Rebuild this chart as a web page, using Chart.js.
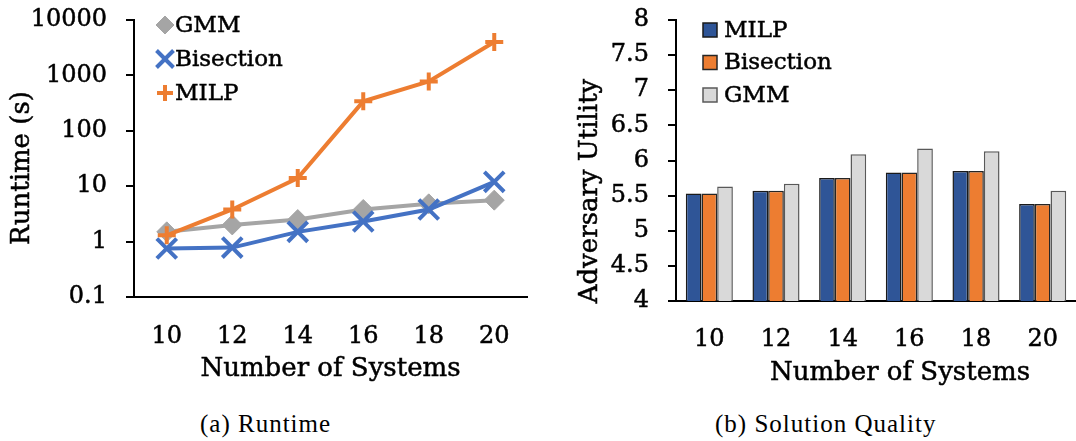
<!DOCTYPE html>
<html>
<head>
<meta charset="utf-8">
<script src="https://cdn.jsdelivr.net/npm/chart.js@4.4.1/dist/chart.umd.min.js"></script>
<style>
  html, body { margin: 0; padding: 0; background: #fff; }
  body { width: 1076px; height: 441px; position: relative; overflow: hidden; }
  #runtime { position: absolute; left: 0; top: 0; }
  #quality { position: absolute; left: 545px; top: 0; }
  .cap { position: absolute; top: 411px; font-family: "Liberation Serif", serif; font-size: 25px;
         letter-spacing: 1px; line-height: 1; color: #000; white-space: nowrap; }
</style>
</head>
<body>
<canvas id="runtime" width="545" height="400"></canvas>
<canvas id="quality" width="531" height="400"></canvas>
<div class="cap" style="left:200px">(a) Runtime</div>
<div class="cap" style="left:715px">(b) Solution Quality</div>
<script>
// ---- data ----
const systems = ['10', '12', '14', '16', '18', '20'];

const runtimeGMM       = [1.5, 2.0, 2.5, 3.8, 4.8, 5.6];
const runtimeBisection = [0.75, 0.78, 1.5, 2.3, 3.8, 12];
const runtimeMILP      = [1.3, 3.8, 14, 340, 780, 4000];
const runtimeTicks     = [0.1, 1, 10, 100, 1000, 10000];

const utilityMILP      = [5.53, 5.57, 5.75, 5.83, 5.85, 5.38];
const utilityBisection = [5.53, 5.57, 5.75, 5.83, 5.85, 5.38];
const utilityGMM       = [5.63, 5.67, 6.09, 6.17, 6.13, 5.57];
const utilityTicks     = [4, 4.5, 5, 5.5, 6, 6.5, 7, 7.5, 8];

// ---- shared styling ----
const FAMILY = 'DejaVu Serif';
const TICK_FONT = { family: FAMILY, size: 24 };
const TITLE_SIZE = 26;
const LEGEND_SIZE = 23;
const INK = 0.5;

Chart.defaults.font.family = FAMILY;
Chart.defaults.color = '#000';
Chart.defaults.animation = false;

function inkText(ctx, text, x, y) {
  ctx.fillText(text, x, y);
  ctx.lineWidth = INK;
  ctx.strokeStyle = '#000';
  ctx.strokeText(text, x, y);
}

function drawTitle(ctx, text, x, y, vertical) {
  ctx.save();
  ctx.fillStyle = '#000';
  ctx.font = TITLE_SIZE + 'px "' + FAMILY + '"';
  ctx.textAlign = 'center';
  ctx.textBaseline = 'middle';
  ctx.translate(x, y);
  if (vertical) ctx.rotate(-Math.PI / 2);
  inkText(ctx, text, 0, 0);
  ctx.restore();
}

function legendText(ctx, text, x, y) {
  ctx.save();
  ctx.fillStyle = '#000';
  ctx.font = LEGEND_SIZE + 'px "' + FAMILY + '"';
  ctx.textAlign = 'left';
  ctx.textBaseline = 'middle';
  inkText(ctx, text, x, y);
  ctx.restore();
}

// keep the plot edges where the axis boxes put them
function flatY(width) {
  return function (s) { s.width = width; s.paddingTop = 0; s.paddingBottom = 0; };
}
function flatX(height) {
  return function (s) { s.height = height; s.paddingLeft = 0; s.paddingRight = 0; };
}

const tickStyle = { font: TICK_FONT, color: '#000', textStrokeColor: '#000', textStrokeWidth: INK };

// ---- (a) runtime, log scale ----
const runtimeDecor = {
  id: 'runtimeDecor',
  afterDraw(chart) {
    const { ctx, chartArea: a } = chart;
    drawTitle(ctx, 'Number of Systems', (a.left + a.right) / 2, 369, false);
    drawTitle(ctx, 'Runtime (s)', 22, 168, true);

    ctx.save();
    chart.data.datasets.forEach((ds, row) => {
      const x = a.left + 31;
      const y = a.top + 5 + row * 34;
      ctx.fillStyle = ds.backgroundColor;
      ctx.strokeStyle = ds.borderColor;
      ctx.lineWidth = ds.legendLine;
      Chart.helpers.drawPoint(ctx, {
        pointStyle: ds.pointStyle, rotation: 0,
        radius: ds.legendRadius, borderWidth: ds.legendLine
      }, x, y);
      legendText(ctx, ds.label, x + 10, y + 1);
    });
    ctx.restore();
  }
};

new Chart(document.getElementById('runtime'), {
  type: 'line',
  data: {
    labels: systems,
    datasets: [
      {
        label: 'GMM', data: runtimeGMM, order: 3,
        borderColor: '#A5A5A5', backgroundColor: '#A5A5A5', borderWidth: 4,
        pointStyle: 'rectRot', pointRadius: 10, pointBorderWidth: 1,
        pointBackgroundColor: '#A5A5A5', pointBorderColor: '#A5A5A5',
        legendRadius: 9, legendLine: 1
      },
      {
        label: 'Bisection', data: runtimeBisection, order: 2,
        borderColor: '#4472C4', backgroundColor: '#4472C4', borderWidth: 4,
        pointStyle: 'crossRot', pointRadius: 14, pointBorderWidth: 4,
        pointBorderColor: '#4472C4',
        legendRadius: 12, legendLine: 4
      },
      {
        label: 'MILP', data: runtimeMILP, order: 1,
        borderColor: '#ED7D31', backgroundColor: '#ED7D31', borderWidth: 4,
        pointStyle: 'cross', pointRadius: 9, pointBorderWidth: 4,
        pointBorderColor: '#ED7D31',
        legendRadius: 8, legendLine: 4
      }
    ]
  },
  options: {
    responsive: false,
    layout: { padding: { top: 20, right: 18, bottom: 0, left: 0 } },
    elements: { line: { tension: 0 } },
    plugins: { legend: { display: false }, tooltip: { enabled: false } },
    scales: {
      x: {
        type: 'category', offset: true,
        grid: { display: false },
        border: { display: true, color: '#000', width: 2 },
        ticks: Object.assign({ padding: 17 }, tickStyle),
        afterFit: flatX(103)
      },
      y: {
        type: 'logarithmic', min: 0.1, max: 10000,
        afterBuildTicks(s) { s.ticks = runtimeTicks.map(v => ({ value: v })); },
        grid: { drawOnChartArea: false, drawTicks: true, tickLength: 8, color: '#000', lineWidth: 2 },
        border: { display: true, color: '#000', width: 2 },
        ticks: Object.assign({ padding: 19, callback: v => String(v) }, tickStyle),
        afterFit: flatY(134)
      }
    }
  },
  plugins: [runtimeDecor]
});

// ---- (b) solution quality, grouped bars ----
const qualityDecor = {
  id: 'qualityDecor',
  afterDraw(chart) {
    const { ctx, chartArea: a } = chart;
    drawTitle(ctx, 'Number of Systems', 355, 373, false);
    drawTitle(ctx, 'Adversary Utility', 45, 191, true);

    ctx.save();
    chart.data.datasets.forEach((ds, row) => {
      const x = a.left + 27;
      const y = a.top + 10 + row * 32.5;
      ctx.fillStyle = ds.backgroundColor;
      ctx.fillRect(x, y - 7, 14, 14);
      ctx.strokeStyle = ds.borderColor;
      ctx.lineWidth = 1.5;
      ctx.strokeRect(x, y - 7, 14, 14);
      legendText(ctx, ds.label, x + 21, y + 1);
    });
    ctx.restore();
  }
};

new Chart(document.getElementById('quality'), {
  type: 'bar',
  data: {
    labels: systems,
    datasets: [
      { label: 'MILP', data: utilityMILP, backgroundColor: '#2F5597', borderColor: '#1A1A1A' },
      { label: 'Bisection', data: utilityBisection, backgroundColor: '#ED7D31', borderColor: '#262626' },
      { label: 'GMM', data: utilityGMM, backgroundColor: '#D9D9D9', borderColor: '#595959' }
    ]
  },
  options: {
    responsive: false,
    layout: { padding: { top: 20, right: 0, bottom: 0, left: 0 } },
    datasets: {
      bar: {
        categoryPercentage: 0.706, barPercentage: 1,
        borderWidth: 1.5, borderSkipped: 'start'
      }
    },
    plugins: { legend: { display: false }, tooltip: { enabled: false } },
    scales: {
      x: {
        grid: { display: false },
        border: { display: true, color: '#000', width: 2 },
        ticks: Object.assign({ padding: 16 }, tickStyle),
        afterFit: flatX(99)
      },
      y: {
        type: 'linear', min: 4, max: 8,
        afterBuildTicks(s) { s.ticks = utilityTicks.map(v => ({ value: v })); },
        grid: { drawOnChartArea: false, drawTicks: true, tickLength: 8, color: '#000', lineWidth: 2 },
        border: { display: true, color: '#000', width: 2 },
        ticks: Object.assign({ padding: 19, callback: v => String(v) }, tickStyle),
        afterFit: flatY(131)
      }
    }
  },
  plugins: [qualityDecor]
});
</script>
</body>
</html>
